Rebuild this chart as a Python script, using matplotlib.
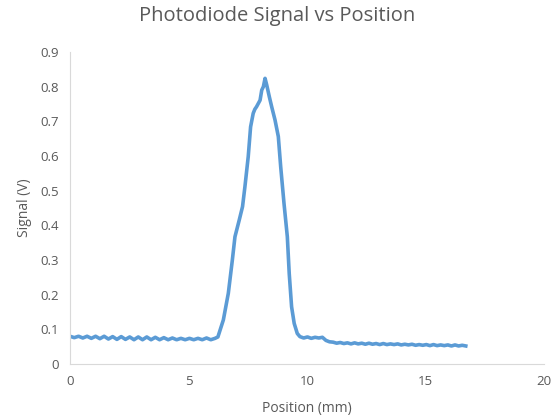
import numpy as np
import matplotlib.pyplot as plt

# flat part before the peak (ripple), mm 0 -> 6.12
base_left = [0.080, 0.076, 0.080, 0.075, 0.080, 0.074, 0.080, 0.073, 0.080, 0.072,
             0.079, 0.071, 0.079, 0.071, 0.078, 0.070, 0.078, 0.070, 0.078, 0.070,
             0.077, 0.070, 0.076, 0.070, 0.075, 0.070, 0.074, 0.070, 0.074, 0.070,
             0.074, 0.070, 0.075, 0.070, 0.074]
x_left = np.linspace(0, 6.12, len(base_left))

# the peak itself
x_peak = [6.24, 6.47, 6.68, 6.85, 6.96, 7.14, 7.28, 7.38, 7.52, 7.62, 7.73, 7.80, 7.87,
          8.02, 8.09, 8.16, 8.23, 8.30, 8.41, 8.51, 8.65, 8.79, 8.89, 9.03, 9.17, 9.25,
          9.35, 9.46, 9.59]
y_peak = [0.078, 0.127, 0.204, 0.300, 0.367, 0.415, 0.454, 0.511, 0.598, 0.684, 0.723,
          0.735, 0.742, 0.761, 0.790, 0.800, 0.824, 0.805, 0.771, 0.742, 0.704, 0.656,
          0.569, 0.463, 0.367, 0.261, 0.165, 0.117, 0.088]

# shoulder after the peak
x_shoulder = [9.70, 9.86, 10.02, 10.18, 10.34, 10.50, 10.65, 10.80, 10.95]
y_shoulder = [0.079, 0.075, 0.078, 0.074, 0.077, 0.075, 0.077, 0.068, 0.064]

# slow tail, mm 11.1 -> 16.7
tail = [0.063, 0.060, 0.062, 0.059, 0.061, 0.058, 0.061, 0.058, 0.060, 0.057,
        0.060, 0.057, 0.059, 0.056, 0.059, 0.056, 0.058, 0.056, 0.058, 0.055,
        0.057, 0.055, 0.057, 0.054, 0.056, 0.054, 0.056, 0.053, 0.056, 0.053,
        0.055, 0.053, 0.055, 0.052, 0.055, 0.052, 0.054, 0.052]
x_tail = np.linspace(11.1, 16.7, len(tail))

position = np.concatenate([x_left, x_peak, x_shoulder, x_tail])
signal = np.concatenate([base_left, y_peak, y_shoulder, tail])

plt.rcParams['font.family'] = ['Open Sans', 'DejaVu Sans']
grey = '#595959'

fig = plt.figure(figsize=(5.53, 4.15), dpi=100)
ax = fig.add_axes([0.1266, 0.1229, 0.8571, 0.7518])
ax.plot(position, signal, color='#5B9BD5', linewidth=2.6)

ax.set_xlim(0, 20)
ax.set_ylim(0, 0.9)
ax.set_xticks([0, 5, 10, 15, 20])
ax.set_yticks(np.arange(0, 0.91, 0.1))
ax.set_yticklabels(['0', '0.1', '0.2', '0.3', '0.4', '0.5', '0.6', '0.7', '0.8', '0.9'])
ax.tick_params(length=0, labelsize=9.5, colors=grey, pad=8)
for s in ['top', 'right']:
    ax.spines[s].set_visible(False)
for s in ['left', 'bottom']:
    ax.spines[s].set_color('#D9D9D9')

fig.suptitle('Photodiode Signal vs Position', fontsize=14.5, color=grey, x=0.502, y=0.985)
ax.set_xlabel('Position (mm)', fontsize=10, color=grey, labelpad=9)
ax.set_ylabel('Signal (V)', fontsize=10, color=grey, labelpad=6)

fig.savefig('out.png', dpi=100)
